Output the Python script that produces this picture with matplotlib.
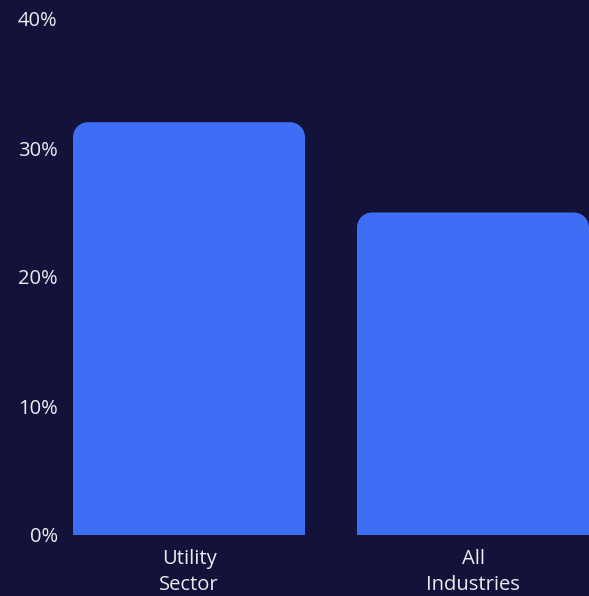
import matplotlib
matplotlib.use("Agg")
import matplotlib.pyplot as plt
from matplotlib.path import Path
from matplotlib.patches import PathPatch

categories = ["Utility\nSector", "All\nIndustries"]
values = [32, 25]
y_ticks = [0, 10, 20, 30, 40]
y_labels = ["0%", "10%", "20%", "30%", "40%"]

bg = "#13123a"
bar_color = "#3d6ef5"
text_color = "#ececf2"

plt.rcParams["font.family"] = ["Open Sans", "DejaVu Sans"]

fig = plt.figure(figsize=(5.89, 5.96), dpi=100, facecolor=bg)
ax = fig.add_axes([73 / 589, 61 / 596, 516 / 589, 516 / 596], facecolor=bg)

width = 232 / 284
xlim = (-width / 2, 1 + width / 2)
ylim = (0, 40)
ax.set_xlim(*xlim)
ax.set_ylim(*ylim)

# corner radius in pixels -> data units
radius_px = 15
rx = radius_px * (xlim[1] - xlim[0]) / 516
ry = radius_px * (ylim[1] - ylim[0]) / 516
k = 0.5523


def rounded_top_bar(x0, x1, h):
    verts = [
        (x0, 0), (x0, h - ry),
        (x0, h - ry + k * ry), (x0 + rx - k * rx, h), (x0 + rx, h),
        (x1 - rx, h),
        (x1 - rx + k * rx, h), (x1, h - ry + k * ry), (x1, h - ry),
        (x1, 0), (x0, 0),
    ]
    codes = [Path.MOVETO, Path.LINETO,
             Path.CURVE4, Path.CURVE4, Path.CURVE4,
             Path.LINETO,
             Path.CURVE4, Path.CURVE4, Path.CURVE4,
             Path.LINETO, Path.CLOSEPOLY]
    return Path(verts, codes)


for i, v in enumerate(values):
    p = rounded_top_bar(i - width / 2, i + width / 2, v)
    ax.add_patch(PathPatch(p, facecolor=bar_color, edgecolor="none"))

ax.set_xticks(range(len(categories)))
ax.set_xticklabels(categories, linespacing=1.4)
ax.set_yticks(y_ticks)
ax.set_yticklabels(y_labels)
ax.tick_params(axis="both", length=0, colors=text_color, labelsize=14.5)
ax.tick_params(axis="y", pad=11)
ax.tick_params(axis="x", pad=10)
for s in ax.spines.values():
    s.set_visible(False)

fig.savefig("out.png", dpi=100, facecolor=bg)
